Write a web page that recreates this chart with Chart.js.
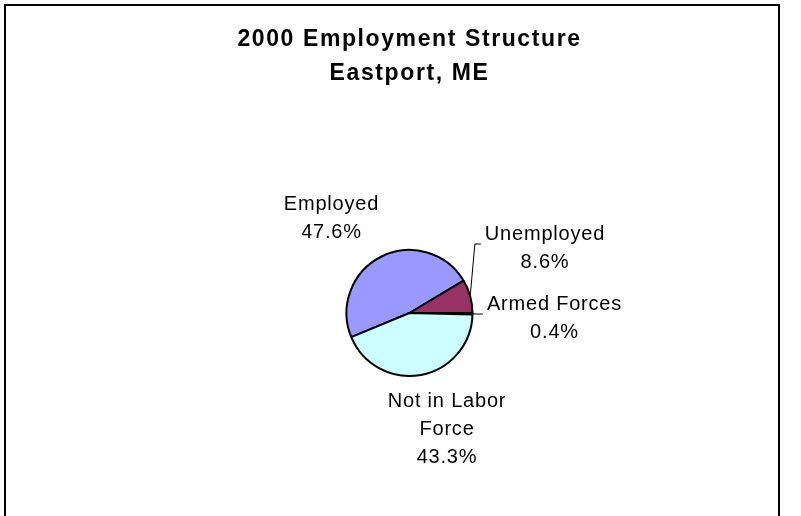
<!DOCTYPE html>
<html lang="en">
<head>
<meta charset="UTF-8" />
<title>2000 Employment Structure - Eastport, ME</title>
<script src="https://cdn.jsdelivr.net/npm/chart.js"></script>
<style>
  body {
    margin: 0;
    background: #fff;
  }
  .wrap {
    position: relative;
    width: 801px;
    height: 516px;
    overflow: hidden;
  }
  /* chart frame, runs off the bottom of the page */
  .frame {
    position: absolute;
    left: 4px;
    top: 4px;
    width: 772px;
    height: 600px;
    border: 2px solid #000;
  }
  canvas {
    position: absolute;
    left: 0;
    top: 0;
  }
</style>
</head>
<body>
<div class="wrap">
  <div class="frame"></div>
  <canvas id="pie" width="801" height="516"></canvas>
</div>

<script>
  const titleLines = ["2000 Employment Structure", "Eastport, ME"];
  const categories = ["Employed", "Unemployed", "Armed Forces", "Not in Labor Force"];
  const shares = [47.6, 8.6, 0.4, 43.3];
  const sliceColors = ["#9999ff", "#993366", "#ffffcc", "#ccffff"];

  const FONT = "Arial, 'Liberation Sans', sans-serif";

  // break a label into lines no wider than maxWidth
  function wrapText(ctx, text, maxWidth) {
    const words = text.split(" ");
    const lines = [];
    let line = "";
    words.forEach((w) => {
      const test = line ? line + " " + w : w;
      if (line && ctx.measureText(test).width > maxWidth) {
        lines.push(line);
        line = w;
      } else {
        line = test;
      }
    });
    lines.push(line);
    return lines;
  }

  // title text is a little spread out
  const spacing = {
    id: "spacing",
    beforeDraw(chart, args, opts) {
      chart.ctx.letterSpacing = opts.title;
    },
  };

  // category + percentage outside each slice, with leader lines for the dragged ones
  const sliceLabels = {
    id: "sliceLabels",
    afterDatasetsDraw(chart, args, opts) {
      const ctx = chart.ctx;
      const arcs = chart.getDatasetMeta(0).data;
      ctx.save();
      ctx.font = "20px " + FONT;
      ctx.letterSpacing = opts.letterSpacing;
      ctx.fillStyle = "#000";
      ctx.strokeStyle = "#000";
      ctx.lineWidth = 1;
      ctx.textAlign = "center";
      ctx.textBaseline = "middle";

      arcs.forEach((arc, i) => {
        const lines = wrapText(ctx, categories[i], opts.maxWidth);
        lines.push(shares[i].toFixed(1) + "%");
        const cx = arc.x + opts.offsets[i][0];
        const cy = arc.y + opts.offsets[i][1];
        const top = cy - ((lines.length - 1) * opts.lineHeight) / 2;
        lines.forEach((t, k) => ctx.fillText(t, cx, top + k * opts.lineHeight));

        if (opts.leaders[i]) {
          const w = Math.max(...lines.map((t) => ctx.measureText(t).width));
          const left = cx - w / 2;
          const mid = (arc.startAngle + arc.endAngle) / 2;
          const ex = arc.x + Math.cos(mid) * arc.outerRadius;
          const ey = arc.y + Math.sin(mid) * arc.outerRadius;
          ctx.beginPath();
          ctx.moveTo(ex, ey);
          ctx.lineTo(left - 10, cy - 4);
          ctx.lineTo(left - 4, cy - 4);
          ctx.stroke();
        }
      });
      ctx.restore();
    },
  };

  new Chart(document.getElementById("pie"), {
    type: "pie",
    data: {
      labels: categories,
      datasets: [
        {
          data: shares,
          backgroundColor: sliceColors,
          borderColor: "#000",
          borderWidth: 2,
        },
      ],
    },
    options: {
      responsive: false,
      animation: false,
      rotation: 247.5,
      radius: 63,
      layout: { padding: { left: 18, right: 0, top: 0, bottom: 0 } },
      plugins: {
        legend: { display: false },
        tooltip: { enabled: false },
        title: {
          display: true,
          text: titleLines,
          color: "#000",
          font: { family: FONT, size: 23, weight: "bold", lineHeight: 34 / 23 },
          padding: { top: 23, bottom: 19 },
        },
        spacing: { title: "1.6px" },
        sliceLabels: {
          letterSpacing: "0.8px",
          lineHeight: 28,
          maxWidth: 140,
          offsets: [
            [-78, -95],
            [135.5, -65],
            [145, 5],
            [37.5, 116],
          ],
          leaders: [false, true, true, false],
        },
      },
    },
    plugins: [spacing, sliceLabels],
  });
</script>
</body>
</html>
